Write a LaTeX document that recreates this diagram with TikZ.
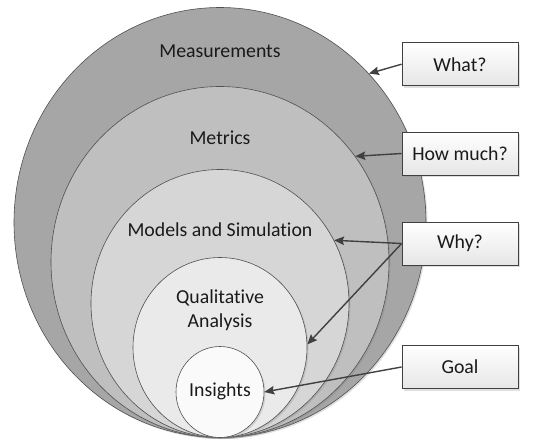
\documentclass[tikz,border=0pt]{standalone}
\usepackage{fontspec}
\setmainfont{Carlito}[Ligatures=CommonOff]
\usetikzlibrary{shapes.geometric,arrows.meta,shadows}
\definecolor{cA}{HTML}{A6A6A6}
\definecolor{cB}{HTML}{BFBFBF}
\definecolor{cC}{HTML}{D6D6D6}
\definecolor{cD}{HTML}{EAEAEA}
\definecolor{cE}{HTML}{FAFAFA}
\definecolor{ringline}{HTML}{505050}
\definecolor{boxline}{HTML}{404040}
\definecolor{boxbot}{HTML}{E6E6E6}
\definecolor{arrowc}{HTML}{404040}
\definecolor{txt}{HTML}{1A1A1A}
\begin{document}
\begin{tikzpicture}[x=1pt,y=-1pt,
  ring/.style={ellipse,draw=ringline,line width=0.6pt,inner sep=0pt,
    drop shadow={opacity=0.25,shadow xshift=1.5pt,shadow yshift=-1.5pt}},
  lbl/.style={font=\fontsize{19.8}{24.5}\selectfont,text=txt,align=center,inner sep=0pt},
  qbox/.style={draw=boxline,line width=0.8pt,top color=white,bottom color=boxbot,
    minimum width=116pt,minimum height=43pt,inner sep=0pt,
    font=\fontsize{19.8}{24.5}\selectfont,text=txt,
    drop shadow={opacity=0.25,shadow xshift=2pt,shadow yshift=-2pt}},
  arr/.style={draw=arrowc,line width=1.4pt,-{Stealth[length=10pt,width=8.5pt,inset=1.5pt]}}
]
\useasboundingbox (0,0) rectangle (545,441);
% rings
\node[ring,fill=cA,minimum width=412pt,minimum height=430pt] (meas) at (220,222.5) {};
\node[ring,fill=cB,minimum width=338pt,minimum height=351pt] (metr) at (220,262) {};
\node[ring,fill=cC,minimum width=258pt,minimum height=268pt] (mods) at (220,303.5) {};
\node[ring,fill=cD,minimum width=174pt,minimum height=180pt] (qual) at (220,347.5) {};
\node[ring,fill=cE,minimum width=88pt,minimum height=91pt] (ins) at (220,392) {};
% labels
\node[lbl] (tmeas) at (220,51) {Measurements};
\node[lbl] (tmetr) at (220,138) {Metrics};
\node[lbl] (tmods) at (220,230) {Models and Simulation};
\node[lbl] (tqual) at (220,310) {Qualitative\\Analysis};
\node[lbl] (tins) at (220,391.5) {Insights};
% boxes
\node[qbox] (what) at (460,64.2) {What?};
\node[qbox] (how) at (460,153.5) {How much?};
\node[qbox] (why) at (460,243.5) {Why?};
\node[qbox] (goal) at (460,367) {Goal};
% arrows
\draw[arr] (what.west) -- (meas.45);
\draw[arr] (how.west) -- (metr.38);
\draw[arr] (why.west) -- (mods.29);
\draw[arr] (why.west) -- (qual.2);
\draw[arr] (goal.west) -- (ins.east);
\end{tikzpicture}
\end{document}
